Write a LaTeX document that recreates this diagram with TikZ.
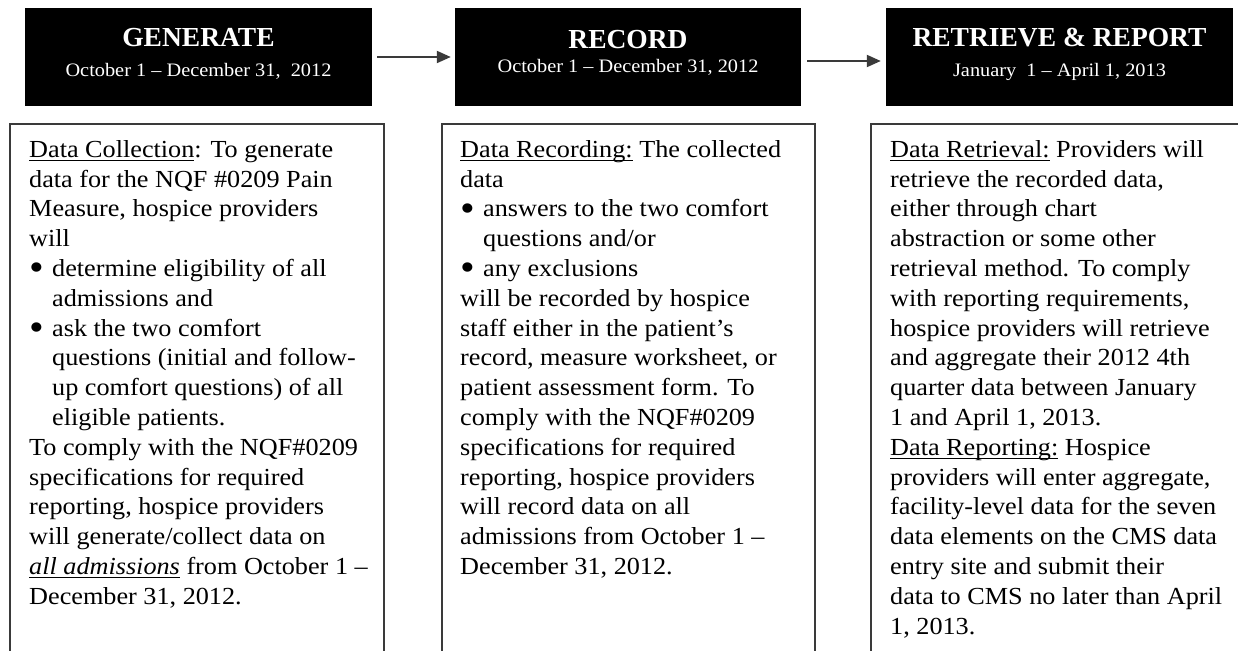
\documentclass[tikz,border=0pt]{standalone}
\usepackage{fontspec}
\setmainfont{Liberation Serif}
\newfontfamily\bodyfont{Liberation Serif}[FakeStretch=1.07]
\usetikzlibrary{arrows.meta}
\newcommand\myul[1]{\setbox0\hbox{#1}\rlap{\rule[-3.5pt]{\wd0}{1.2pt}}\box0\relax}
\newcommand\bul{\makebox[23pt][l]{\raisebox{-4.5pt}{\scalebox{1.6}{•}}}}
\newcommand\ind{\hspace*{23pt}}
\definecolor{edge}{HTML}{3A3A3A}
\tikzset{
  head/.style={fill=black, draw=none, minimum width=347pt, minimum height=98pt, inner sep=0pt},
  htitle/.style={text=white, inner sep=0pt, font=\bfseries\fontsize{27.5pt}{30pt}\selectfont},
  hdate/.style={text=white, inner sep=0pt, font=\bodyfont\fontsize{19pt}{22pt}\selectfont},
  cbox/.style={draw=edge, line width=1.5pt, fill=none, minimum width=374pt, minimum height=600pt, inner sep=0pt, anchor=north west},
  txt/.style={inner sep=0pt, align=left, anchor=north west, text=black,
    font=\bodyfont\fontsize{24.5pt}{29.8pt}\selectfont},
  arr/.style={draw=edge, line width=2pt, -{Triangle[length=14pt,width=12pt]}}
}
\begin{document}
\begin{tikzpicture}[x=1pt,y=-1pt]
\useasboundingbox[fill=white] (0,0) rectangle (1238,650);
% headers
\node[head] (h1) at (198.5,57) {};
\node[head, minimum width=346pt] (h2) at (628,57) {};
\node[head] (h3) at (1059.5,57) {};
\node[htitle] (t1) at (198.5,38) {GENERATE};
\node[hdate] (d1) at (198.5,71) {October 1 – December 31,\ \ 2012};
\node[htitle] (t2) at (628,40) {RECORD};
\node[hdate] (d2) at (628,67) {October 1 – December 31, 2012};
\node[htitle] (t3) at (1059.5,38) {RETRIEVE \& REPORT};
\node[hdate] (d3) at (1059.5,72) {January\ \ 1 – April 1, 2013};
% arrows
\draw[arr, shorten <=5pt, shorten >=4pt] (h1.east) -- (h2.west);
\draw[arr, shorten <=6pt, shorten >=5pt] ([yshift=-4pt]h2.east) -- ([yshift=-4pt]h3.west);
% content boxes
\node[cbox] (b1) at (9,123) {};
\node[cbox, minimum width=373pt] (b2) at (441,123) {};
\node[cbox, minimum width=400pt] (b3) at (870,123) {};
% texts
\node[txt] (x1) at (29,140) {%
\myul{Data Collection}: To generate\\
data for the NQF \#0209 Pain\\
Measure, hospice providers\\
will\\
\bul determine eligibility of all\\
\ind admissions and\\
\bul ask the two comfort\\
\ind questions (initial and follow-\\
\ind up comfort questions) of all\\
\ind eligible patients.\\
To comply with the NQF\#0209\\
specifications for required\\
reporting, hospice providers\\
will generate/collect data on\\
\myul{\itshape all admissions} from October 1 –\\
December 31, 2012.};
\node[txt] (x2) at (460,140) {%
\myul{Data Recording:} The collected\\
data\\
\bul answers to the two comfort\\
\ind questions and/or\\
\bul any exclusions\\
will be recorded by hospice\\
staff either in the patient’s\\
record, measure worksheet, or\\
patient assessment form. To\\
comply with the NQF\#0209\\
specifications for required\\
reporting, hospice providers\\
will record data on all\\
admissions from October 1 –\\
December 31, 2012.};
\node[txt] (x3) at (890,140) {%
\myul{Data Retrieval:} Providers will\\
retrieve the recorded data,\\
either through chart\\
abstraction or some other\\
retrieval method. To comply\\
with reporting requirements,\\
hospice providers will retrieve\\
and aggregate their 2012 4th\\
quarter data between January\\
1 and April 1, 2013.\\
\myul{Data Reporting:} Hospice\\
providers will enter aggregate,\\
facility-level data for the seven\\
data elements on the CMS data\\
entry site and submit their\\
data to CMS no later than April\\
1, 2013.};
\end{tikzpicture}
\end{document}
